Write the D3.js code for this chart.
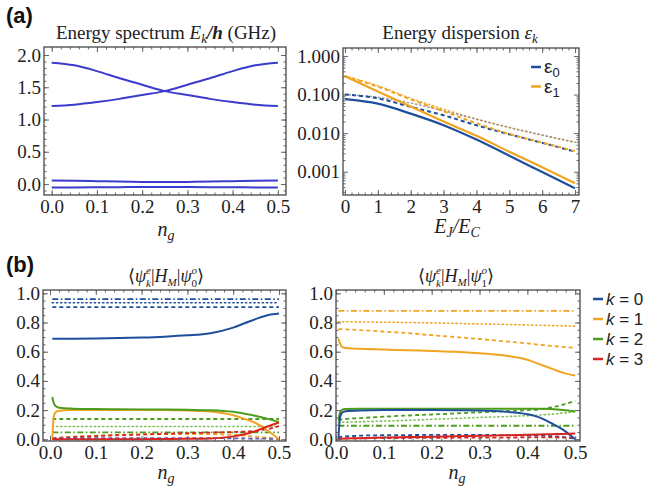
<!DOCTYPE html>
<html lang="en">
<head>
<meta charset="UTF-8">
<title>Energy spectrum and matrix elements</title>
<script src="https://cdnjs.cloudflare.com/ajax/libs/d3/7.8.5/d3.min.js"></script>
<style>
  body{margin:0;background:#fff;}
  svg text{font-family:"Liberation Serif","Times New Roman",serif;}
  svg text.sans{font-family:"Liberation Sans",Arial,sans-serif;}
</style>
</head>
<body>
<script>
// (a) left: energy spectrum vs n_g
var ngSpec=[0,0.05,0.1,0.15,0.2,0.25,0.3,0.35,0.4,0.45,0.5];
var specE0=[-0.055,-0.053,-0.05,-0.048,-0.046,-0.045,-0.046,-0.048,-0.05,-0.053,-0.055];
var specE1=[0.055,0.052,0.045,0.038,0.033,0.03,0.033,0.038,0.045,0.052,0.055];
var specE2=[1.88,1.84,1.75,1.64,1.54,1.44,1.38,1.32,1.27,1.23,1.21];
var specE3=[1.21,1.23,1.27,1.32,1.38,1.44,1.54,1.64,1.75,1.84,1.88];
var specYTicks=[0,0.5,1,1.5,2];
var ngTicks=[0,0.1,0.2,0.3,0.4,0.5];

// (a) right: energy dispersion vs EJ/EC (log)
var ejec=[0,1,2,3,4,5,6,7];
var eps0Solid=[0.076,0.058,0.032,0.016,0.0068,0.0026,0.00098,0.00037];
var eps1Solid=[0.30,0.12,0.049,0.020,0.0085,0.0033,0.0013,0.0005];
var eps0Dashed=[0.10,0.08,0.048,0.029,0.016,0.0093,0.0056,0.0033];
var eps1Dashed=[0.30,0.16,0.075,0.037,0.018,0.0095,0.0057,0.0034];
var eps0Dotted=[0.10,0.085,0.06,0.038,0.023,0.014,0.0089,0.0058];
var eps1Dotted=[0.30,0.17,0.08,0.042,0.023,0.014,0.0089,0.0058];
var ejTicks=[0,1,2,3,4,5,6,7];
var epsTicks=[0.001,0.01,0.1,1];

// (b) matrix elements vs n_g
var ngB=[0.005,0.008,0.012,0.02,0.05,0.1,0.15,0.2,0.25,0.3,0.35,0.4,0.425,0.45,0.475,0.5];
// <psi_k^e|H_M|psi_0^o>
var m0k0=[0.688,0.688,0.688,0.688,0.689,0.690,0.693,0.697,0.703,0.712,0.727,0.765,0.795,0.825,0.850,0.862];
var m0k0Dash=[0.905,0.905,0.905,0.905,0.905,0.905,0.905,0.905,0.905,0.905,0.905,0.905,0.905,0.905,0.905,0.905];
var m0k0Dot=[0.935,0.935,0.935,0.935,0.935,0.935,0.935,0.935,0.935,0.935,0.935,0.935,0.935,0.935,0.935,0.935];
var m0k0DashDot=[0.96,0.96,0.96,0.96,0.96,0.96,0.96,0.96,0.96,0.96,0.96,0.96,0.96,0.96,0.96,0.96];
var m0k0Low=[0.008,0.008,0.008,0.008,0.008,0.008,0.008,0.008,0.008,0.008,0.008,0.007,0.006,0.005,0.004,0.003];
var m0k1=[0.0,0.15,0.185,0.195,0.2,0.201,0.201,0.2,0.2,0.198,0.19,0.165,0.14,0.11,0.06,0.0];
var m0k1Dash=[0.005,0.008,0.01,0.012,0.018,0.025,0.03,0.033,0.035,0.036,0.035,0.03,0.025,0.018,0.01,0.002];
var m0k2=[0.29,0.25,0.228,0.216,0.21,0.207,0.206,0.205,0.204,0.202,0.199,0.188,0.175,0.16,0.14,0.118];
var m0k2Dash=[0.139,0.139,0.139,0.139,0.139,0.139,0.139,0.139,0.139,0.139,0.139,0.139,0.139,0.139,0.139,0.139];
var m0k2Dot=[0.088,0.088,0.088,0.088,0.088,0.088,0.088,0.088,0.088,0.088,0.088,0.088,0.088,0.088,0.088,0.088];
var m0k2DashDot=[0.047,0.047,0.047,0.047,0.047,0.047,0.047,0.047,0.047,0.047,0.047,0.047,0.047,0.047,0.047,0.047];
var m0k3=[0.0,0.0,0.0,0.0,0.0,0.0,0.001,0.001,0.002,0.003,0.006,0.02,0.035,0.058,0.088,0.115];
var m0k3Dash=[0.005,0.006,0.008,0.01,0.015,0.022,0.028,0.033,0.038,0.042,0.046,0.05,0.053,0.058,0.07,0.09];
// <psi_k^e|H_M|psi_1^o>
var m1k0=[0.0,0.14,0.18,0.192,0.198,0.2,0.2,0.2,0.199,0.197,0.19,0.172,0.15,0.11,0.065,0.0];
var m1k0Dash=[0.01,0.015,0.018,0.02,0.025,0.028,0.029,0.03,0.03,0.03,0.029,0.027,0.025,0.021,0.015,0.005];
var m1k1=[0.69,0.66,0.635,0.625,0.62,0.615,0.61,0.605,0.6,0.59,0.575,0.545,0.515,0.485,0.455,0.437];
var m1k1Dash=[0.755,0.755,0.754,0.753,0.748,0.738,0.727,0.713,0.7,0.687,0.672,0.657,0.648,0.64,0.633,0.627];
var m1k1Dot=[0.805,0.805,0.805,0.805,0.804,0.802,0.8,0.797,0.794,0.79,0.787,0.783,0.781,0.779,0.777,0.775];
var m1k1DashDot=[0.88,0.88,0.88,0.88,0.88,0.88,0.88,0.88,0.88,0.88,0.88,0.88,0.88,0.88,0.88,0.88];
var m1k2=[0.13,0.18,0.2,0.207,0.21,0.21,0.21,0.21,0.21,0.21,0.21,0.21,0.21,0.207,0.2,0.19];
var m1k2Dash=[0.13,0.133,0.137,0.14,0.145,0.155,0.163,0.17,0.177,0.185,0.192,0.2,0.205,0.218,0.238,0.264];
var m1k2Dot=[0.115,0.115,0.116,0.117,0.12,0.125,0.13,0.137,0.143,0.15,0.155,0.162,0.166,0.172,0.18,0.19];
var m1k2DashDot=[0.093,0.093,0.093,0.093,0.093,0.093,0.093,0.093,0.093,0.093,0.093,0.093,0.093,0.093,0.093,0.093];
var m1k3=[0.0,0.002,0.004,0.006,0.008,0.012,0.015,0.018,0.021,0.024,0.027,0.031,0.033,0.035,0.037,0.039];
var m1k3Dash=[0.004,0.005,0.006,0.006,0.007,0.008,0.009,0.01,0.011,0.012,0.012,0.013,0.013,0.013,0.012,0.01];
var matTicks=[0,0.2,0.4,0.6,0.8,1.0];
var kLabels=["0","1","2","3"];

var blue="#1f4f9c", orange="#f0a422", green="#4c9c1e", red="#d8231f", specBlue="#3b3bcc";
var kColors=[blue,orange,green,red];
var dashes={solid:null,dashed:"4,3",dotted:"1.2,3",dashdot:"6,2.5,1.5,2.5"};
var serif="'Liberation Serif','Times New Roman',serif";

var svg=d3.select("body").append("svg").attr("width",672).attr("height",489);
svg.append("rect").attr("width",672).attr("height",489).attr("fill","#fff");

var clipId=0;
function makePanel(box,x,y,o){
  x.range([box.l,box.r]); y.range([box.b,box.t]);
  var g=svg.append("g");
  var id="clip"+(clipId++);
  svg.append("clipPath").attr("id",id).append("rect")
    .attr("x",box.l).attr("y",box.t).attr("width",box.r-box.l).attr("height",box.b-box.t);
  var ax=svg.append("g");
  function style(s){
    s.select(".domain").remove();
    s.selectAll("line").attr("stroke","#666");
    s.attr("font-size",19).attr("font-family",null).attr("color","#222");
    s.selectAll("text").style("font-family",serif).attr("font-size",19);
  }
  var blank=function(){return "";};
  ax.append("g").attr("transform","translate(0,"+box.b+")")
    .call(d3.axisBottom(x).tickValues(o.xMajor).tickSize(-5).tickPadding(5).tickFormat(o.xFmt)).call(style);
  ax.append("g").attr("transform","translate(0,"+box.b+")")
    .call(d3.axisBottom(x).tickValues(o.xMinor).tickSize(-2.5).tickFormat(blank)).call(style);
  ax.append("g").attr("transform","translate(0,"+box.t+")")
    .call(d3.axisTop(x).tickValues(o.xMajor).tickSize(-5).tickFormat(blank)).call(style);
  ax.append("g").attr("transform","translate(0,"+box.t+")")
    .call(d3.axisTop(x).tickValues(o.xMinor).tickSize(-2.5).tickFormat(blank)).call(style);
  ax.append("g").attr("transform","translate("+box.l+",0)")
    .call(d3.axisLeft(y).tickValues(o.yMajor).tickSize(-5).tickPadding(3).tickFormat(o.yFmt)).call(style);
  ax.append("g").attr("transform","translate("+box.l+",0)")
    .call(d3.axisLeft(y).tickValues(o.yMinor).tickSize(-2.5).tickFormat(blank)).call(style);
  ax.append("g").attr("transform","translate("+box.r+",0)")
    .call(d3.axisRight(y).tickValues(o.yMajor).tickSize(-5).tickFormat(blank)).call(style);
  ax.append("g").attr("transform","translate("+box.r+",0)")
    .call(d3.axisRight(y).tickValues(o.yMinor).tickSize(-2.5).tickFormat(blank)).call(style);
  ax.selectAll("text").filter(function(){return this.textContent==="";}).remove();
  ax.append("rect").attr("x",box.l).attr("y",box.t).attr("width",box.r-box.l).attr("height",box.b-box.t)
    .attr("fill","none").attr("stroke","#555").attr("stroke-width",1.4);
  var lines=g.append("g").attr("clip-path","url(#"+id+")");
  return {x:x,y:y,g:lines,box:box};
}

function addLine(p,xs,ys,color,kind,width,opacity){
  var pts=xs.map(function(v,i){return [v,ys[i]];});
  var line=d3.line().x(function(d){return p.x(d[0]);}).y(function(d){return p.y(d[1]);}).curve(d3.curveMonotoneX);
  p.g.append("path").attr("d",line(pts)).attr("fill","none")
    .attr("stroke",color).attr("stroke-width",width||2)
    .attr("stroke-opacity",opacity||1)
    .attr("stroke-dasharray",dashes[kind])
    .attr("stroke-linecap",kind==="dotted"?"round":"butt");
}

function rich(t,parts){
  parts.forEach(function(p){
    var s=t.append("tspan").text(p[0]);
    if(p[1]) Object.keys(p[1]).forEach(function(k){s.attr(k,p[1][k]);});
  });
  return t;
}
function label(x,y,size,parts,cls){
  var t=svg.append("text").attr("x",x).attr("y",y).attr("font-size",size).attr("text-anchor","middle").attr("fill","#222");
  if(cls) t.attr("class",cls);
  return rich(t,parts);
}
var it={"font-style":"italic"};

// lays out pieces as separate texts; a piece with stack:true sits above/below the previous one
function formula(cx,base,pieces){
  var g=svg.append("g"), cur=0, prevX=0, prevW=0;
  pieces.forEach(function(p){
    var t=g.append("text").attr("y",base+(p.dy||0)).attr("font-size",p.size||18)
      .attr("font-style",p.italic?"italic":null).attr("fill","#222").text(p.t);
    var w;
    if(p.stack){
      t.attr("x",prevX); w=t.node().getComputedTextLength();
      cur=prevX+Math.max(prevW,w);
    } else {
      t.attr("x",cur); w=t.node().getComputedTextLength();
      prevX=cur; prevW=w; cur+=w+(p.gap||0);
    }
  });
  g.attr("transform","translate("+(cx-cur/2)+",0)");
}

// ---------- panel (a) left
var pA=makePanel({l:44,r:286,t:47,b:195},
  d3.scaleLinear().domain([-0.017,0.518]), d3.scaleLinear().domain([-0.17,2.124]),
  {xMajor:ngTicks, xMinor:d3.range(0,0.52,0.02), yMajor:specYTicks, yMinor:d3.range(-0.1,2.05,0.1),
   xFmt:d3.format(".1f"), yFmt:d3.format(".1f")});
[specE0,specE1,specE2,specE3].forEach(function(s){addLine(pA,ngSpec,s,specBlue,"solid",2);});

// ---------- panel (a) right
var yB=d3.scaleLog().domain([2.49e-4,1.61]);
var pB=makePanel({l:343,r:579,t:48,b:195},
  d3.scaleLinear().domain([-0.06,7.12]), yB,
  {xMajor:ejTicks, xMinor:d3.range(0,7.05,0.2), yMajor:epsTicks,
   yMinor:yB.ticks().filter(function(v){return epsTicks.indexOf(v)<0;}),
   xFmt:d3.format("d"), yFmt:d3.format(".3f")});
addLine(pB,ejec,eps1Dotted,orange,"dotted",1.6,0.8);
addLine(pB,ejec,eps0Dotted,"#8a8a8a","dotted",1.6,0.8);
addLine(pB,ejec,eps0Dashed,blue,"dashed",2);
addLine(pB,ejec,eps1Dashed,orange,"dashed",2);
addLine(pB,ejec,eps0Solid,blue,"solid",2.2);
addLine(pB,ejec,eps1Solid,orange,"solid",2.2);

// ---------- panel (b) left
var pC=makePanel({l:43,r:286,t:290,b:441},
  d3.scaleLinear().domain([-0.0153,0.5153]), d3.scaleLinear().domain([-0.0116,1.0226]),
  {xMajor:ngTicks, xMinor:d3.range(0,0.52,0.02), yMajor:matTicks, yMinor:d3.range(0,1.01,0.05),
   xFmt:d3.format(".1f"), yFmt:d3.format(".1f")});
addLine(pC,ngB,m0k0DashDot,blue,"dashdot",1.8);
addLine(pC,ngB,m0k0Dot,blue,"dotted",1.6);
addLine(pC,ngB,m0k0Dash,blue,"dashed",1.8);
addLine(pC,ngB,m0k2Dash,green,"dashed",1.8);
addLine(pC,ngB,m0k2Dot,"#7cbf52","dotted",1.6);
addLine(pC,ngB,m0k2DashDot,green,"dashdot",1.8);
addLine(pC,ngB,m0k1Dash,orange,"dashed",1.8);
addLine(pC,ngB,m0k3Dash,red,"dashed",1.8);
addLine(pC,ngB,m0k0Low,"#6a55b0","dashed",1.8);
addLine(pC,ngB,m0k0,blue,"solid",2);
addLine(pC,ngB,m0k1,orange,"solid",2);
addLine(pC,ngB,m0k2,green,"solid",2);
addLine(pC,ngB,m0k3,red,"solid",2);

// ---------- panel (b) right
var pD=makePanel({l:336,r:580,t:290,b:441},
  d3.scaleLinear().domain([0,0.51]), d3.scaleLinear().domain([-0.0116,1.0226]),
  {xMajor:ngTicks, xMinor:d3.range(0,0.52,0.02), yMajor:matTicks, yMinor:d3.range(0,1.01,0.05),
   xFmt:d3.format(".1f"), yFmt:d3.format(".1f")});
addLine(pD,ngB,m1k1DashDot,orange,"dashdot",1.8);
addLine(pD,ngB,m1k1Dot,orange,"dotted",1.6);
addLine(pD,ngB,m1k1Dash,orange,"dashed",1.8);
addLine(pD,ngB,m1k2Dot,"#7cbf52","dotted",1.6);
addLine(pD,ngB,m1k2Dash,green,"dashed",1.8);
addLine(pD,ngB,m1k2DashDot,green,"dashdot",1.8);
addLine(pD,ngB,m1k0Dash,blue,"dashed",1.8);
addLine(pD,ngB,m1k3Dash,red,"dashed",1.8);
addLine(pD,ngB,m1k1,orange,"solid",2);
addLine(pD,ngB,m1k2,green,"solid",2);
addLine(pD,ngB,m1k0,blue,"solid",2);
addLine(pD,ngB,m1k3,red,"solid",2);

// ---------- titles and axis labels
svg.append("text").attr("class","sans").attr("x",6).attr("y",23).attr("font-size",22).attr("font-weight","bold").attr("fill","#111").text("(a)");
svg.append("text").attr("class","sans").attr("x",6).attr("y",272).attr("font-size",22).attr("font-weight","bold").attr("fill","#111").text("(b)");

label(166,39,19,[["Energy spectrum "],["E",it],["k",{"font-style":"italic","font-size":13,"dy":4}],["/h",{"font-style":"italic","font-weight":"bold","dy":-4}],[" (GHz)"]]);
label(460,39,19,[["Energy dispersion "],["\u03b5",it],["k",{"font-style":"italic","font-size":13,"dy":4}]]);
label(166,236,20,[["n",it],["g",{"font-style":"italic","font-size":14,"dy":4}]]);
label(457,233,20,[["E",it],["J",{"font-style":"italic","font-size":14,"dy":4}],["/E",{"font-style":"italic","dy":-4}],["C",{"font-style":"italic","font-size":14,"dy":4}]]);
label(166,479,20,[["n",it],["g",{"font-style":"italic","font-size":14,"dy":4}]]);
label(457,479,20,[["n",it],["g",{"font-style":"italic","font-size":14,"dy":4}]]);

function braket(cx,base,n){
  formula(cx,base,[
    {t:"\u27e8"},{t:"\u03c8",italic:true},
    {t:"e",italic:true,size:11,dy:-8},{t:"k",italic:true,size:11,dy:5,stack:true},
    {t:"|"},{t:"H",italic:true},{t:"M",italic:true,size:11,dy:4},
    {t:"|"},{t:"\u03c8",italic:true},
    {t:"o",italic:true,size:11,dy:-8},{t:n,size:11,dy:5,stack:true},
    {t:"\u27e9"}]);
}
braket(166,282,"0");
braket(456,282,"1");

// legend (a)
var legA=[["0",blue],["1",orange]];
legA.forEach(function(d,i){
  svg.append("line").attr("x1",531).attr("x2",541).attr("y1",67+i*19.5).attr("y2",67+i*19.5)
    .attr("stroke",d[1]).attr("stroke-width",2.5);
  rich(svg.append("text").attr("class","sans").attr("x",544).attr("y",73+i*19.5).attr("font-size",19).attr("fill","#222"),
    [["\u03b5"],[d[0],{"font-size":13,"dy":4}]]);
});
// legend (b)
kLabels.forEach(function(k,i){
  svg.append("line").attr("x1",593).attr("x2",603).attr("y1",299+i*20).attr("y2",299+i*20)
    .attr("stroke",kColors[i]).attr("stroke-width",2.5);
  rich(svg.append("text").attr("class","sans").attr("x",606).attr("y",305+i*20).attr("font-size",17).attr("fill","#222"),
    [["k",it],[" = "+k]]);
});
</script>
</body>
</html>
